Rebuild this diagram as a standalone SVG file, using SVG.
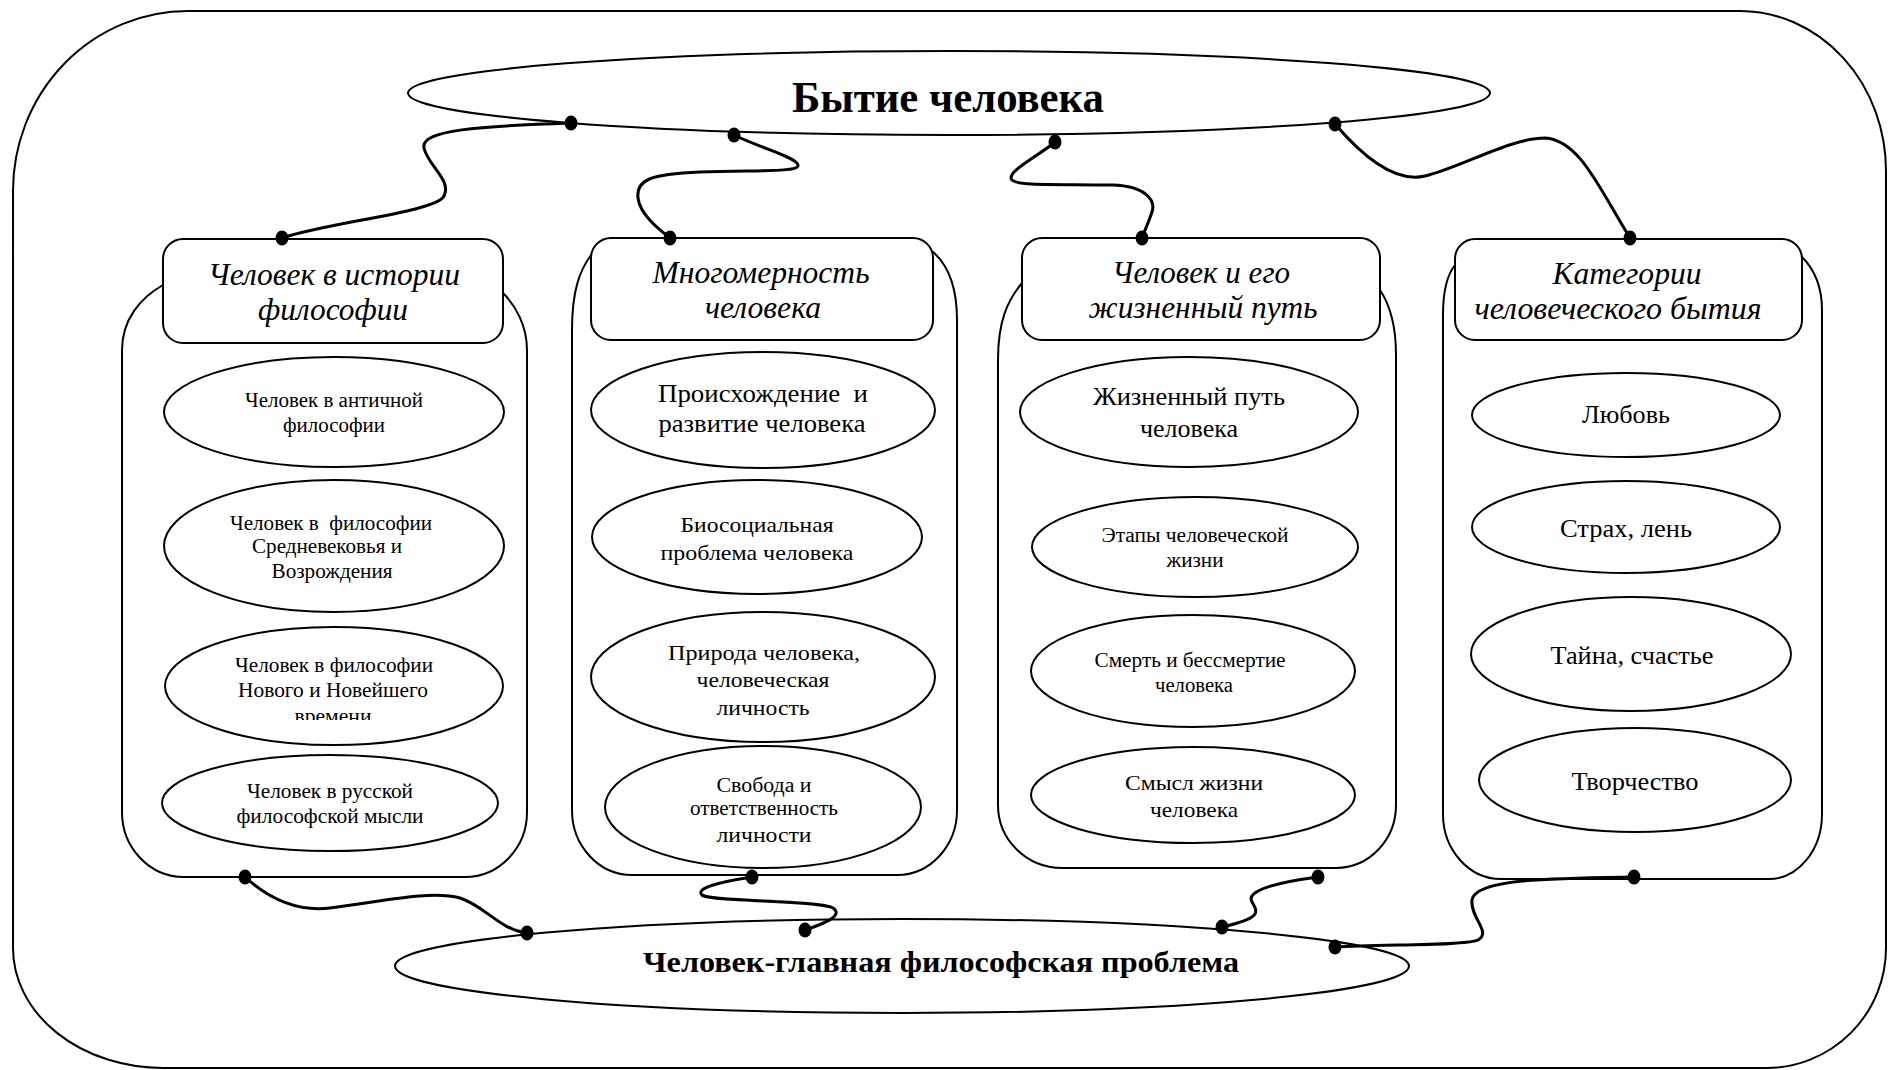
<svg xmlns="http://www.w3.org/2000/svg" width="1896" height="1070" viewBox="0 0 1896 1070">
  <style>
    .frame { fill: none; stroke: #000; stroke-width: 2; }
    .shape { fill: #fff; stroke: #000; stroke-width: 2; }
    .link { fill: none; stroke: #000; stroke-width: 3; }
    .dot { fill: #000; }
    text { font-family: "Liberation Serif", "Times New Roman", serif; fill: #000; text-anchor: middle; }
    .title { font-weight: bold; font-size: 45px; }
    .main { font-weight: bold; font-size: 30px; }
    .head { font-style: italic; font-size: 32px; }
    .s20 { font-size: 20px; }
    .s22 { font-size: 22px; }
    .s25 { font-size: 25px; }
  </style>
  <defs>
    <clipPath id="clip-cut">
      <rect x="200" y="690" width="270" height="30"/>
    </clipPath>
  </defs>

  <!-- outer frame -->
  <path class="frame" d="M13,191 A175,180 0 0 1 188,11 L1740,11 A146,160 0 0 1 1886,171 L1886,948 A120,120 0 0 1 1766,1068 L163,1068 A150,120 0 0 1 13,948 Z"/>

  <g id="top">
    <ellipse class="shape" cx="949" cy="93" rx="541" ry="42"/>
    <text class="title" x="948" y="112" textLength="312" lengthAdjust="spacingAndGlyphs">Бытие человека</text>
  </g>

  <g id="bottom">
    <ellipse class="shape" cx="902" cy="966" rx="507" ry="47"/>
    <text class="main" x="941" y="972" textLength="596" lengthAdjust="spacingAndGlyphs">Человек-главная философская проблема</text>
  </g>

  <!-- column 1 -->
  <g id="col1">
    <path class="shape" d="M163,285 C140,298 122,320 122,350 L122,812 A62,65 0 0 0 184,877 L465,877 A62,65 0 0 0 527,812 L527,350 C527,325 515,305 503,293 Z"/>
    <rect class="shape" x="163" y="239" width="340" height="104" rx="20" ry="20"/>
    <text class="head" x="334" y="285" textLength="252" lengthAdjust="spacingAndGlyphs">Человек в истории</text>
    <text class="head" x="333" y="320" textLength="150" lengthAdjust="spacingAndGlyphs">философии</text>

    <g id="c1e1">
      <ellipse class="shape" cx="334" cy="412" rx="170" ry="55"/>
      <text class="s20" x="334" y="407" textLength="178" lengthAdjust="spacingAndGlyphs">Человек в античной</text>
      <text class="s20" x="334" y="432" textLength="102" lengthAdjust="spacingAndGlyphs">философии</text>
    </g>
    <g id="c1e2">
      <ellipse class="shape" cx="334" cy="546" rx="170" ry="66"/>
      <text class="s20" x="331" y="530" textLength="202" lengthAdjust="spacingAndGlyphs" xml:space="preserve">Человек в  философии</text>
      <text class="s20" x="327" y="553" textLength="150" lengthAdjust="spacingAndGlyphs">Средневековья и</text>
      <text class="s20" x="332" y="578" textLength="121" lengthAdjust="spacingAndGlyphs">Возрождения</text>
    </g>
    <g id="c1e3">
      <ellipse class="shape" cx="334" cy="686" rx="169" ry="59"/>
      <text class="s20" x="334" y="672" textLength="198" lengthAdjust="spacingAndGlyphs">Человек в философии</text>
      <text class="s20" x="333" y="697" textLength="190" lengthAdjust="spacingAndGlyphs">Нового и Новейшего</text>
      <text class="s20" x="333" y="723" textLength="77" lengthAdjust="spacingAndGlyphs" clip-path="url(#clip-cut)">времени</text>
    </g>
    <g id="c1e4">
      <ellipse class="shape" cx="330" cy="803" rx="168" ry="48"/>
      <text class="s20" x="330" y="798" textLength="166" lengthAdjust="spacingAndGlyphs">Человек в русской</text>
      <text class="s20" x="330" y="823" textLength="187" lengthAdjust="spacingAndGlyphs">философской мысли</text>
    </g>
  </g>

  <!-- column 2 -->
  <g id="col2">
    <path class="shape" d="M591,255 C580,270 572,290 572,330 L572,810 A60,65 0 0 0 632,875 L897,875 A60,65 0 0 0 957,810 L957,320 C957,285 948,265 933,252 Z"/>
    <rect class="shape" x="591" y="238" width="342" height="102" rx="20" ry="20"/>
    <text class="head" x="761" y="283" textLength="217" lengthAdjust="spacingAndGlyphs">Многомерность</text>
    <text class="head" x="763" y="318" textLength="116" lengthAdjust="spacingAndGlyphs">человека</text>

    <g id="c2e1">
      <ellipse class="shape" cx="763" cy="410" rx="172" ry="58"/>
      <text class="s25" x="763" y="402" textLength="210" lengthAdjust="spacingAndGlyphs" xml:space="preserve">Происхождение  и</text>
      <text class="s25" x="762" y="432" textLength="207" lengthAdjust="spacingAndGlyphs">развитие человека</text>
    </g>
    <g id="c2e2">
      <ellipse class="shape" cx="757" cy="537" rx="165" ry="57"/>
      <text class="s22" x="757" y="532" textLength="153" lengthAdjust="spacingAndGlyphs">Биосоциальная</text>
      <text class="s22" x="757" y="560" textLength="193" lengthAdjust="spacingAndGlyphs">проблема человека</text>
    </g>
    <g id="c2e3">
      <ellipse class="shape" cx="763" cy="677" rx="172" ry="65"/>
      <text class="s22" x="764" y="660" textLength="192" lengthAdjust="spacingAndGlyphs">Природа человека,</text>
      <text class="s22" x="763" y="687" textLength="133" lengthAdjust="spacingAndGlyphs">человеческая</text>
      <text class="s22" x="763" y="715" textLength="93" lengthAdjust="spacingAndGlyphs">личность</text>
    </g>
    <g id="c2e4">
      <ellipse class="shape" cx="763" cy="807" rx="158" ry="61"/>
      <text class="s20" x="764" y="792" textLength="95" lengthAdjust="spacingAndGlyphs">Свобода и</text>
      <text class="s20" x="764" y="815" textLength="148" lengthAdjust="spacingAndGlyphs">ответственность</text>
      <text class="s20" x="764" y="842" textLength="95" lengthAdjust="spacingAndGlyphs">личности</text>
    </g>
  </g>

  <!-- column 3 -->
  <g id="col3">
    <path class="shape" d="M1022,283 C1008,300 998,320 998,360 L998,805 A64,63 0 0 0 1062,868 L1336,868 A60,63 0 0 0 1396,805 L1396,355 C1396,325 1390,305 1380,290 Z"/>
    <rect class="shape" x="1022" y="238" width="358" height="102" rx="20" ry="20"/>
    <text class="head" x="1201" y="283" textLength="178" lengthAdjust="spacingAndGlyphs">Человек и его</text>
    <text class="head" x="1203" y="318" textLength="229" lengthAdjust="spacingAndGlyphs">жизненный путь</text>

    <g id="c3e1">
      <ellipse class="shape" cx="1189" cy="412" rx="169" ry="55"/>
      <text class="s25" x="1189" y="405" textLength="192" lengthAdjust="spacingAndGlyphs">Жизненный путь</text>
      <text class="s25" x="1189" y="437" textLength="98" lengthAdjust="spacingAndGlyphs">человека</text>
    </g>
    <g id="c3e2">
      <ellipse class="shape" cx="1195" cy="547" rx="163" ry="50"/>
      <text class="s20" x="1195" y="542" textLength="187" lengthAdjust="spacingAndGlyphs">Этапы человеческой</text>
      <text class="s20" x="1195" y="567" textLength="57" lengthAdjust="spacingAndGlyphs">жизни</text>
    </g>
    <g id="c3e3">
      <ellipse class="shape" cx="1193" cy="671" rx="162" ry="56"/>
      <text class="s20" x="1190" y="667" textLength="191" lengthAdjust="spacingAndGlyphs">Смерть и бессмертие</text>
      <text class="s20" x="1194" y="692" textLength="78" lengthAdjust="spacingAndGlyphs">человека</text>
    </g>
    <g id="c3e4">
      <ellipse class="shape" cx="1193" cy="795" rx="162" ry="48"/>
      <text class="s22" x="1194" y="790" textLength="138" lengthAdjust="spacingAndGlyphs">Смысл жизни</text>
      <text class="s22" x="1194" y="817" textLength="88" lengthAdjust="spacingAndGlyphs">человека</text>
    </g>
  </g>

  <!-- column 4 -->
  <g id="col4">
    <path class="shape" d="M1455,265 C1447,275 1443,290 1443,315 L1443,814 A58,65 0 0 0 1501,879 L1769,879 A53,65 0 0 0 1822,814 L1822,310 C1822,285 1813,268 1802,257 Z"/>
    <rect class="shape" x="1455" y="239" width="347" height="101" rx="20" ry="20"/>
    <text class="head" x="1627" y="284" textLength="149" lengthAdjust="spacingAndGlyphs">Категории</text>
    <text class="head" x="1618" y="319" textLength="287" lengthAdjust="spacingAndGlyphs">человеческого бытия</text>

    <g id="c4e1">
      <ellipse class="shape" cx="1626" cy="415" rx="154" ry="42"/>
      <text class="s25" x="1626" y="423" textLength="88" lengthAdjust="spacingAndGlyphs">Любовь</text>
    </g>
    <g id="c4e2">
      <ellipse class="shape" cx="1626" cy="527" rx="154" ry="46"/>
      <text class="s25" x="1626" y="537" textLength="132" lengthAdjust="spacingAndGlyphs">Страх, лень</text>
    </g>
    <g id="c4e3">
      <ellipse class="shape" cx="1631" cy="654" rx="160" ry="57"/>
      <text class="s25" x="1632" y="664" textLength="163" lengthAdjust="spacingAndGlyphs">Тайна, счастье</text>
    </g>
    <g id="c4e4">
      <ellipse class="shape" cx="1635" cy="780" rx="156" ry="52"/>
      <text class="s25" x="1635" y="790" textLength="127" lengthAdjust="spacingAndGlyphs">Творчество</text>
    </g>
  </g>

  <!-- wavy links with dot ends -->
  <g id="connectors">
    <path class="link" d="M571,123 C480,126 420,130 424,148 C428,166 452,180 444,196 C436,212 330,222 282,238"/>
    <path class="link" d="M734,135 C760,148 800,158 798,166 C796,172 760,170 700,172 C650,174 636,180 638,198 C640,215 660,230 670,238"/>
    <path class="link" d="M1055,142 C1040,155 1005,172 1012,180 C1018,186 1060,184 1113,185 C1145,186 1156,200 1152,212 C1148,224 1144,232 1142,238"/>
    <path class="link" d="M1335,124 C1370,165 1400,182 1425,176 C1460,168 1510,138 1545,138 C1580,140 1600,190 1630,238"/>

    <path class="link" d="M245,877 C268,898 295,912 330,908 C380,902 430,890 460,898 C485,906 500,930 527,933"/>
    <path class="link" d="M752,877 C720,882 695,888 702,895 C710,902 820,900 833,908 C845,916 820,925 805,930"/>
    <path class="link" d="M1318,877 C1280,882 1245,890 1252,902 C1258,912 1262,918 1222,927"/>
    <path class="link" d="M1634,877 C1560,878 1475,878 1472,900 C1470,918 1492,932 1478,940 C1465,946 1380,944 1335,947"/>

    <ellipse class="dot" cx="571" cy="123" rx="6.5" ry="7.5"/>
    <ellipse class="dot" cx="734" cy="135" rx="6.5" ry="7.5"/>
    <ellipse class="dot" cx="1055" cy="142" rx="6.5" ry="7.5"/>
    <ellipse class="dot" cx="1335" cy="124" rx="6.5" ry="7.5"/>
    <ellipse class="dot" cx="282" cy="238" rx="6.5" ry="7.5"/>
    <ellipse class="dot" cx="670" cy="238" rx="6.5" ry="7.5"/>
    <ellipse class="dot" cx="1142" cy="238" rx="6.5" ry="7.5"/>
    <ellipse class="dot" cx="1630" cy="238" rx="6.5" ry="7.5"/>

    <ellipse class="dot" cx="245" cy="877" rx="6.5" ry="7.5"/>
    <ellipse class="dot" cx="527" cy="933" rx="6.5" ry="7.5"/>
    <ellipse class="dot" cx="752" cy="877" rx="6.5" ry="7.5"/>
    <ellipse class="dot" cx="805" cy="930" rx="6.5" ry="7.5"/>
    <ellipse class="dot" cx="1318" cy="877" rx="6.5" ry="7.5"/>
    <ellipse class="dot" cx="1222" cy="927" rx="6.5" ry="7.5"/>
    <ellipse class="dot" cx="1634" cy="877" rx="6.5" ry="7.5"/>
    <ellipse class="dot" cx="1335" cy="947" rx="6.5" ry="7.5"/>
  </g>
</svg>
